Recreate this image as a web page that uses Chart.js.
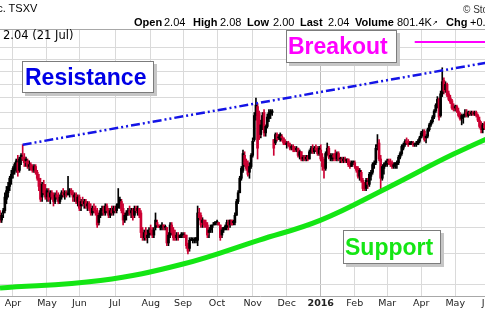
<!DOCTYPE html>
<html><head><meta charset="utf-8">
<script src="https://cdn.jsdelivr.net/npm/chart.js@4.4.1/dist/chart.umd.min.js"></script>
<style>
html,body{margin:0;padding:0;background:#fff;width:485px;height:312px;overflow:hidden;}
#wrap{position:relative;width:485px;height:312px;overflow:hidden;}
#cv{position:absolute;left:0;top:0;}
.t{position:absolute;white-space:nowrap;font-family:"Liberation Sans",Arial,sans-serif;font-size:11px;line-height:11px;color:#000;z-index:2;}
.b{font-weight:bold;}
.box{position:absolute;box-sizing:border-box;background:#fff;border:1px solid #7c7c7c;box-shadow:3px 3px 0 #c6c6c6;font-family:"Liberation Sans",Arial,sans-serif;font-weight:bold;font-size:23px;line-height:23px;display:flex;align-items:center;white-space:nowrap;z-index:2;}
</style></head>
<body>
<div id="wrap">
<canvas id="cv" width="520" height="312"></canvas>
<div class="t" style="left:-12px;top:2.7px;">Inc. TSXV</div>
<div class="t" style="left:463px;top:4px;font-size:10px;color:#333;">© StockCharts.com</div>
<div class="t b" style="left:134px;top:17.4px;">Open</div>
<div class="t" style="left:164px;top:17.4px;">2.04</div>
<div class="t b" style="left:193px;top:17.4px;">High</div>
<div class="t" style="left:220px;top:17.4px;">2.08</div>
<div class="t b" style="left:247px;top:17.4px;">Low</div>
<div class="t" style="left:273px;top:17.4px;">2.00</div>
<div class="t b" style="left:300px;top:17.4px;">Last</div>
<div class="t" style="left:328px;top:17.4px;">2.04</div>
<div class="t b" style="left:355px;top:17.4px;">Volume</div>
<div class="t" style="left:397px;top:17.4px;">801.4K<span style="font-size:7px;vertical-align:top;">↗</span></div>
<div class="t b" style="left:446px;top:17.4px;">Chg</div>
<div class="t" style="left:470px;top:17.4px;">+0.04</div>
<div class="t" style="left:3px;top:29.5px;font-family:'DejaVu Sans',Verdana,sans-serif;font-size:11.5px;">2.04 (21 Jul)</div>
<div class="box" style="left:22px;top:61px;width:132px;height:32px;padding-left:2px;color:#0000e6;">Resistance</div>
<div class="box" style="left:286px;top:30px;width:111px;height:33px;padding-left:1px;color:#ff00ff;">Breakout</div>
<div class="box" style="left:343px;top:230px;width:98px;height:34px;padding-left:1px;color:#14e614;">Support</div>
</div>
<script>
// ---- data (price, log scale; x = trading-day index, 0 = first trading day of Apr 2015) ----
const firstDay = -8;
const opens = [.95,.93,.96,.97,1.02,1.05,1.08,1.12,1.14,1.16,
1.19,1.20,1.16,1.22,1.23,1.23,1.21,1.21,1.18,1.19,
1.17,1.16,1.18,1.15,1.12,1.08,1.03,1.09,1.05,1.03,
1.05,1.03,1.05,1.03,1.01,1.04,1.03,1.01,1.03,1.05,
1.04,1.05,1.04,1.05,1.06,1.05,1.03,1.04,1.01,1.03,
.99,1.01,1.00,1.01,.99,1.00,.98,.96,.98,.97,
.97,.92,.95,.97,.98,.96,.99,.97,.95,.97,
.96,.98,.97,.99,1.00,1.01,.98,.93,.95,.96,
.97,.96,.97,.95,.98,.97,.98,.96,.88,.86,
.88,.86,.87,.89,.88,.87,.90,.92,.91,.90,
.90,.91,.90,.90,.84,.87,.91,.89,.87,.86,
.87,.86,.87,.87,.87,.87,.83,.82,.85,.85,
.85,.85,.85,.96,.95,.92,.93,.92,.91,.88,
.89,.90,.91,.92,.92,.92,.91,.87,.89,.90,
.90,.92,.91,.93,.92,.92,.95,1.01,1.05,1.12,
1.16,1.24,1.20,1.19,1.15,1.18,1.24,1.33,1.48,1.54,
1.50,1.36,1.40,1.50,1.37,1.41,1.46,1.49,1.50,1.33,
1.31,1.36,1.34,1.33,1.35,1.34,1.32,1.30,1.31,1.30,
1.28,1.29,1.28,1.27,1.28,1.24,1.26,1.22,1.23,1.22,
1.23,1.22,1.26,1.28,1.26,1.28,1.27,1.25,1.27,1.23,
1.19,1.17,1.25,1.28,1.23,1.22,1.24,1.25,1.22,1.25,
1.22,1.22,1.21,1.22,1.21,1.22,1.20,1.18,1.20,1.20,
1.18,1.17,1.13,1.15,1.11,1.08,1.07,1.10,1.09,1.13,
1.15,1.19,1.20,1.29,1.31,1.22,1.12,1.17,1.19,1.20,
1.21,1.20,1.20,1.18,1.19,1.19,1.20,1.23,1.25,1.28,
1.30,1.32,1.32,1.30,1.31,1.31,1.30,1.30,1.30,1.32,
1.34,1.37,1.38,1.34,1.35,1.39,1.42,1.44,1.47,1.51,
1.55,1.59,1.48,1.63,1.73,1.66,1.70,1.63,1.60,1.58,
1.54,1.53,1.54,1.51,1.49,1.46,1.47,1.48,1.50,1.48,
1.50,1.49,1.50,1.49,1.50,1.48,1.45,1.42,1.39,1.42];
const highs = [.97,.96,.98,1.05,1.08,1.10,1.13,1.16,1.18,1.20,
1.22,1.24,1.23,1.25,1.30,1.25,1.23,1.22,1.21,1.20,
1.19,1.19,1.19,1.16,1.14,1.12,1.10,1.11,1.09,1.07,
1.07,1.06,1.06,1.05,1.05,1.06,1.05,1.04,1.06,1.07,
1.06,1.06,1.13,1.07,1.07,1.06,1.05,1.05,1.04,1.04,
1.02,1.03,1.02,1.02,1.01,1.01,1.00,.99,1.00,.99,
.98,.96,.98,.99,.99,1.00,1.00,.98,.98,.99,
.99,.99,1.00,1.07,1.03,1.02,1.00,.96,.97,.98,
.99,.98,.98,.99,.99,.99,.98,.97,.90,.89,
.90,.89,.90,.91,.90,.90,.96,.93,.91,.91,
.92,.91,.91,.90,.88,.92,.92,.90,.89,.88,
.88,.87,.88,.88,.88,.87,.84,.86,.86,.86,
.86,.86,.99,.98,.96,.94,.93,.93,.92,.90,
.91,.91,.92,.92,.93,.92,.91,.90,.90,.91,
.93,.93,.93,.93,.93,.96,1.02,1.06,1.13,1.18,
1.27,1.26,1.22,1.21,1.20,1.25,1.34,1.50,1.60,1.56,
1.51,1.45,1.50,1.52,1.42,1.49,1.52,1.52,1.52,1.33,
1.37,1.37,1.36,1.37,1.36,1.34,1.33,1.32,1.32,1.31,
1.30,1.30,1.29,1.29,1.28,1.27,1.26,1.24,1.24,1.24,
1.24,1.27,1.29,1.30,1.29,1.30,1.29,1.29,1.30,1.25,
1.22,1.26,1.31,1.29,1.25,1.25,1.25,1.27,1.26,1.26,
1.23,1.23,1.23,1.23,1.22,1.22,1.21,1.21,1.21,1.21,
1.18,1.18,1.17,1.16,1.12,1.10,1.12,1.12,1.15,1.16,
1.20,1.21,1.30,1.36,1.33,1.24,1.19,1.20,1.21,1.22,
1.22,1.22,1.21,1.20,1.20,1.21,1.24,1.26,1.30,1.31,
1.33,1.34,1.33,1.32,1.32,1.32,1.31,1.32,1.33,1.35,
1.38,1.39,1.39,1.36,1.40,1.43,1.45,1.48,1.52,1.56,
1.61,1.60,1.65,1.83,1.75,1.72,1.71,1.65,1.62,1.59,
1.56,1.55,1.55,1.53,1.50,1.49,1.49,1.52,1.52,1.51,
1.51,1.51,1.51,1.51,1.51,1.49,1.47,1.44,1.43,1.44];
const lows = [.92,.92,.94,.96,1.00,1.03,1.06,1.09,1.12,1.14,
1.15,1.13,1.15,1.19,1.21,1.18,1.18,1.17,1.16,1.16,
1.15,1.15,1.14,1.11,1.06,1.01,1.01,1.04,1.02,1.01,
1.01,1.00,1.02,.99,1.00,1.02,1.00,1.00,1.02,1.03,
1.02,1.03,1.04,1.03,1.04,1.01,1.01,1.00,.99,.97,
.97,.99,.98,.98,.97,.97,.95,.95,.96,.95,
.90,.91,.94,.95,.95,.95,.96,.94,.94,.95,
.95,.96,.96,.98,.98,.96,.91,.92,.93,.95,
.95,.94,.93,.94,.96,.95,.94,.86,.85,.85,
.85,.84,.86,.87,.86,.86,.89,.90,.90,.89,
.89,.89,.89,.83,.83,.86,.87,.85,.85,.85,
.85,.86,.86,.86,.86,.82,.80,.81,.85,.84,
.84,.84,.83,.93,.90,.90,.90,.90,.86,.86,
.88,.88,.91,.91,.91,.91,.85,.86,.88,.89,
.89,.89,.90,.91,.91,.91,.95,1.00,1.05,1.11,
1.15,1.18,1.16,1.13,1.12,1.17,1.23,1.32,1.45,1.22,
1.33,1.34,1.39,1.35,1.35,1.40,1.44,1.46,1.48,1.24,
1.30,1.32,1.33,1.32,1.32,1.30,1.30,1.28,1.29,1.27,
1.27,1.26,1.26,1.26,1.23,1.22,1.21,1.21,1.21,1.21,
1.21,1.22,1.25,1.25,1.25,1.26,1.24,1.24,1.21,1.16,
1.12,1.16,1.24,1.22,1.21,1.21,1.21,1.21,1.21,1.21,
1.20,1.20,1.20,1.20,1.20,1.18,1.17,1.18,1.19,1.17,
1.15,1.12,1.11,1.10,1.06,1.06,1.06,1.07,1.08,1.11,
1.14,1.17,1.19,1.27,1.21,1.05,1.11,1.14,1.18,1.18,
1.19,1.18,1.17,1.17,1.17,1.17,1.19,1.22,1.24,1.27,
1.29,1.30,1.29,1.30,1.30,1.29,1.29,1.29,1.30,1.31,
1.34,1.35,1.32,1.31,1.34,1.38,1.41,1.43,1.46,1.50,
1.53,1.45,1.47,1.61,1.63,1.64,1.61,1.58,1.56,1.52,
1.51,1.51,1.50,1.47,1.45,1.42,1.43,1.47,1.47,1.47,
1.48,1.48,1.48,1.48,1.47,1.44,1.40,1.37,1.37,1.39];
const closes = [.93,.95,.97,1.03,1.06,1.08,1.12,1.14,1.17,1.19,
1.21,1.15,1.22,1.24,1.22,1.20,1.22,1.18,1.19,1.17,
1.16,1.18,1.15,1.12,1.08,1.02,1.09,1.05,1.03,1.06,
1.02,1.05,1.03,1.01,1.04,1.03,1.01,1.03,1.05,1.04,
1.05,1.04,1.05,1.06,1.05,1.03,1.04,1.01,1.03,.98,
1.01,1.00,1.01,.99,1.00,.98,.96,.98,.97,.96,
.91,.95,.97,.98,.96,.99,.97,.95,.97,.96,
.98,.97,.99,1.00,1.02,.97,.93,.95,.96,.97,
.96,.97,.94,.98,.97,.98,.95,.88,.86,.88,
.86,.87,.89,.88,.87,.89,.93,.91,.90,.90,
.91,.90,.90,.84,.87,.91,.88,.86,.86,.87,
.86,.87,.87,.87,.86,.83,.81,.85,.85,.85,
.85,.86,.96,.94,.91,.93,.91,.91,.87,.89,
.90,.91,.92,.92,.92,.91,.86,.89,.90,.90,
.92,.91,.93,.91,.92,.95,1.01,1.05,1.12,1.17,
1.25,1.19,1.17,1.14,1.18,1.24,1.32,1.48,1.55,1.28,
1.35,1.42,1.48,1.37,1.41,1.47,1.50,1.51,1.51,1.28,
1.36,1.33,1.34,1.36,1.34,1.31,1.30,1.31,1.30,1.28,
1.29,1.27,1.27,1.28,1.24,1.26,1.22,1.23,1.22,1.23,
1.22,1.26,1.28,1.26,1.28,1.27,1.25,1.28,1.22,1.18,
1.17,1.25,1.28,1.23,1.24,1.24,1.23,1.22,1.25,1.22,
1.22,1.21,1.22,1.21,1.22,1.19,1.18,1.20,1.20,1.18,
1.16,1.13,1.16,1.11,1.07,1.07,1.11,1.09,1.14,1.15,
1.19,1.20,1.28,1.30,1.22,1.12,1.18,1.19,1.20,1.21,
1.20,1.19,1.18,1.19,1.20,1.20,1.23,1.25,1.29,1.30,
1.32,1.31,1.30,1.31,1.31,1.30,1.30,1.31,1.32,1.34,
1.37,1.38,1.33,1.35,1.39,1.42,1.44,1.47,1.51,1.55,
1.59,1.47,1.63,1.72,1.65,1.70,1.62,1.59,1.57,1.53,
1.52,1.54,1.51,1.48,1.46,1.48,1.48,1.49,1.48,1.50,
1.49,1.50,1.49,1.50,1.48,1.45,1.41,1.39,1.42,1.40];

// month axis
const monthTicks  = [0, 21, 41, 63, 85, 105, 126, 148, 169, 190, 211, 231, 252, 273, 294];
const monthLabels = ['Apr','May','Jun','Jul','Aug','Sep','Oct','Nov','Dec','2016','Feb','Mar','Apr','May','Jun'];
// horizontal grid levels (price)
const priceGrid = [0.7,0.8,0.9,1.0,1.1,1.2,1.3,1.4,1.5,1.6,1.7,1.8,1.9,2.0];
// trend annotations (x = trading day, y = price)
const resistanceX = [6, 313];
const resistanceY = [1.30, 1.922];
const supportX = [-8, 54, 105, 152, 190, 231, 272, 313];
const supportY = [0.688, 0.711, 0.765, 0.851, 0.930, 1.073, 1.247, 1.425];
const breakoutX = [248, 313];
const breakoutY = [2.052, 2.052];

const X_MIN = -8, X_MAX = 313, Y_MIN = 0.6637, Y_MAX = 2.174;

const xs = opens.map((_, k) => firstDay + k);
const RED = '#cc0033', BLK = '#000000';
const barColors = closes.map((c, k) => c < opens[k] ? RED : BLK);

const wicks = xs.map((x, k) => ({x, y: [lows[k], highs[k]]}));
const bodies = xs.map((x, k) => ({x, y: [Math.min(opens[k], closes[k]), Math.max(opens[k], closes[k])]}));
const zip = (a, b) => a.map((v, k) => ({x: v, y: b[k]}));

new Chart(document.getElementById('cv'), {
  type: 'bar',
  data: {
    datasets: [
      {type: 'line', label: 'Support', data: zip(supportX, supportY), borderColor: '#14e614', borderWidth: 5,
       pointRadius: 0, tension: 0.4, order: 0},
      {type: 'line', label: 'Resistance', data: zip(resistanceX, resistanceY), borderColor: '#1414e6', borderWidth: 2.5,
       borderDash: [9, 3, 2, 3, 2, 3], pointRadius: 0, order: 0},
      {type: 'line', label: 'Breakout', data: zip(breakoutX, breakoutY), borderColor: '#ff00ff', borderWidth: 2,
       pointRadius: 0, order: 0},
      {label: 'Body', data: bodies, backgroundColor: barColors, barThickness: 2, minBarLength: 1, grouped: false, order: 1},
      {label: 'Range', data: wicks, backgroundColor: barColors, barThickness: 1, grouped: false, order: 2}
    ]
  },
  options: {
    responsive: false,
    animation: false,
    devicePixelRatio: 1,
    layout: {padding: {top: 29, left: 0, right: 0, bottom: 0}},
    plugins: {legend: {display: false}, tooltip: {enabled: false}},
    scales: {
      x: {
        type: 'linear', min: X_MIN, max: X_MAX, offset: false,
        afterBuildTicks: s => { s.ticks = monthTicks.map(v => ({value: v})); },
        afterFit: s => { s.height = 16; },
        ticks: {
          autoSkip: false, maxRotation: 0, padding: 2, color: '#222',
          callback: v => monthLabels[monthTicks.indexOf(v)],
          font: ctx => ({family: 'DejaVu Sans', size: 9.5, weight: (ctx.tick && ctx.tick.label === '2016') ? 'bold' : 'normal'})
        },
        grid: {
          offset: false, drawTicks: false,
          color: ctx => (ctx.tick && ctx.tick.label === '2016') ? '#bdbdbd' : '#dadada'
        },
        border: {display: true, color: '#a8a8a8', width: 1}
      },
      y: {
        type: 'logarithmic', position: 'right', min: Y_MIN, max: Y_MAX,
        afterBuildTicks: s => { s.ticks = priceGrid.concat([Y_MAX]).map(v => ({value: v})); },
        afterFit: s => { s.width = 0; },
        ticks: {display: false},
        grid: {drawTicks: false, color: ctx => (ctx.tick && ctx.tick.value === Y_MAX) ? '#a8a8a8' : '#dadada'},
        border: {display: false}
      }
    }
  }
});
</script>
</body></html>
